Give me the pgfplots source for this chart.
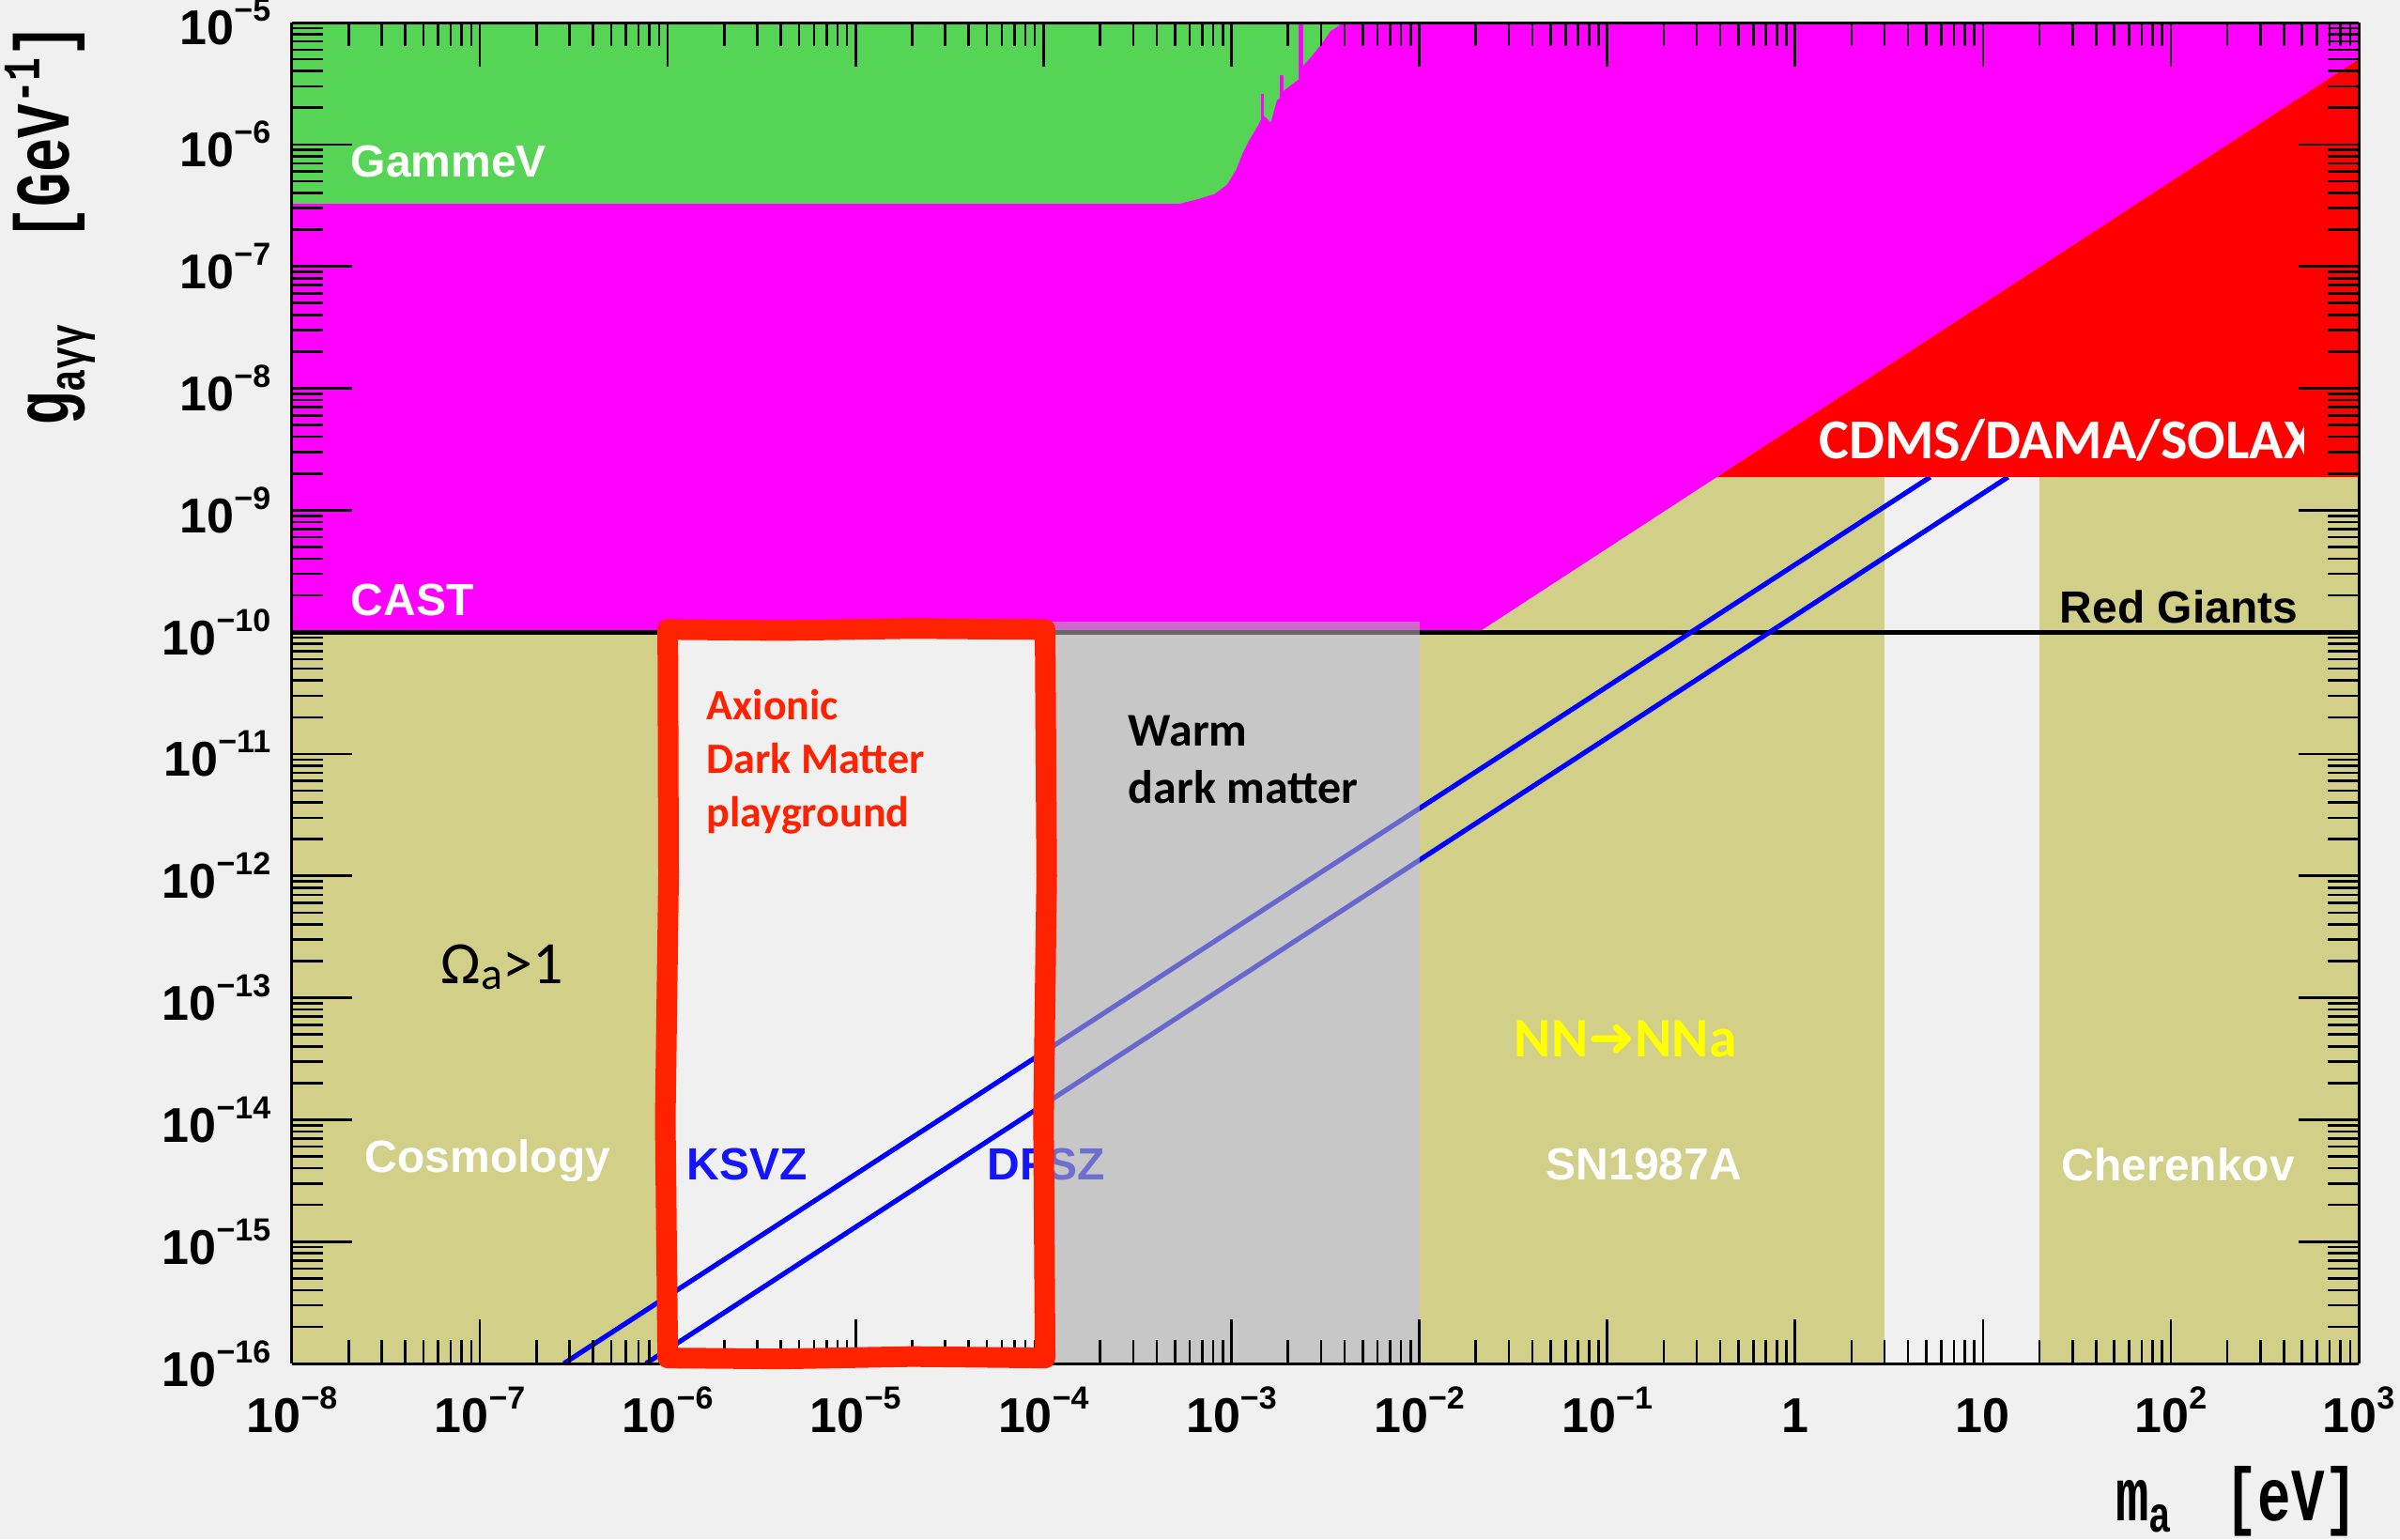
\documentclass[border=0pt]{standalone}
\usepackage{fontspec}
\setmainfont{Liberation Sans}
\newfontfamily\calfont{Carlito}
\newfontfamily\mfont{Liberation Mono}
\newfontfamily\dvfont{DejaVu Sans}
\usepackage{graphicx}
\usepackage{pgfplots}
\pgfplotsset{compat=1.18}

\definecolor{bgc}{HTML}{F0F0F0}
\definecolor{olivec}{HTML}{D2CF88}
\definecolor{greenc}{HTML}{55D455}
\definecolor{magc}{HTML}{FF00FF}
\definecolor{redc}{HTML}{FF0000}
\definecolor{boxc}{HTML}{FF2200}
\definecolor{greyc}{RGB}{173,173,173}
\definecolor{bluec}{HTML}{1414FF}
\definecolor{yelc}{HTML}{FFFF00}

\newcommand{\tf}{\fontsize{13}{13}\selectfont\bfseries}
\newcommand{\sx}[1]{\tf 10\raisebox{6.25pt}{\fontsize{8.5}{8.5}\selectfont\bfseries #1}}
\newcommand{\lab}{\fontsize{12}{12}\selectfont\bfseries}
\newcommand{\cfont}[1]{\calfont\bfseries\fontsize{#1}{#1}\selectfont}

\def\mxt{1e-8}
\foreach \e in {-8,...,2}{\foreach \m in {2,...,9}{\xdef\mxt{\mxt,\m e\e}}}
\def\myt{1e-16}
\foreach \e in {-16,...,-6}{\foreach \m in {2,...,9}{\xdef\myt{\myt,\m e\e}}}

\begin{document}
\begin{tikzpicture}
\fill[bgc] (-77.75pt,-46.75pt) rectangle (561.25pt,363pt);

\begin{axis}[at={(0pt,0pt)}, anchor=south west, scale only axis,
  width=550.25pt, height=357pt, xmode=log, ymode=log,
  xmin=1e-8, xmax=1e3, ymin=1e-16, ymax=1e-5,
  axis line style={line width=0.75pt, black},
  tick style={line width=0.65pt, black},
  hide y axis, axis on top,
  xtick={1e-8,1e-7,1e-6,1e-5,1e-4,1e-3,1e-2,1e-1,1,10,100,1000},
  xticklabels={\sx{−8},\sx{−7},\sx{−6},\sx{−5},\sx{−4},\sx{−3},\sx{−2},\sx{−1},{\tf 1},{\tf 10},\sx{2},\sx{3}},
  minor xtick/.expanded={\mxt},
  major tick length=11.75pt, minor tick length=6.25pt,
  xticklabel style={anchor=base, inner sep=0pt, yshift=-18.25pt},
]
% Cosmology
\addplot[fill=olivec, draw=none] coordinates {(1e-8,1e-16) (1e-6,1e-16) (1e-6,1e-10) (1e-8,1e-10)} -- cycle;
% SN1987A
\addplot[fill=olivec, draw=none] coordinates {(1e-2,1e-16) (3,1e-16) (3,1.87e-9) (1e-2,1.87e-9)} -- cycle;
% Cherenkov
\addplot[fill=olivec, draw=none] coordinates {(20,1e-16) (1e3,1e-16) (1e3,1.87e-9) (20,1.87e-9)} -- cycle;
% CAST
\addplot[fill=magc, draw=none] coordinates {(1e-8,1e-10) (0.0207,1e-10) (1e3,5.0e-6) (1e3,1e-5) (1e-8,1e-5)} -- cycle;
% GammeV
\addplot[fill=greenc, draw=none] coordinates {
 (1e-8,1e-5) (1e-8,3.27e-7) (5.32e-4,3.27e-7) (6.70e-4,3.58e-7) (8.11e-4,3.92e-7)
 (9.46e-4,4.68e-7) (1.062e-3,6.28e-7) (1.146e-3,8.45e-7) (1.236e-3,1.069e-6)
 (1.387e-3,1.439e-6) (1.435e-3,1.6e-6) (1.435e-3,2.6e-6) (1.486e-3,2.6e-6) (1.486e-3,1.73e-6)
 (1.62e-3,1.52e-6) (1.746e-3,2.31e-6) (1.807e-3,2.4e-6) (1.807e-3,3.7e-6) (1.892e-3,3.7e-6)
 (1.892e-3,2.75e-6) (2.198e-3,3.29e-6) (2.275e-3,3.4e-6) (2.275e-3,1e-5) (2.41e-3,1e-5)
 (2.41e-3,4.43e-6) (2.667e-3,5.28e-6) (3.105e-3,7.1e-6) (3.357e-3,8.47e-6)
 (3.767e-3,9.55e-6) (3.9e-3,1e-5)} -- cycle;
% Red Giants
\addplot[black, line width=1.25pt] coordinates {(1e-8,1e-10) (1e3,1e-10)};
% KSVZ, DFSZ
\addplot[blue, line width=1.3pt] coordinates {(2.8e-7,1e-16) (5.24,1.87e-9)};
\addplot[blue, line width=1.3pt] coordinates {(7.66e-7,1e-16) (13.6,1.87e-9)};
% CDMS/DAMA/SOLAX
\addplot[fill=redc, draw=none] coordinates {(0.384,1.87e-9) (1e3,1.87e-9) (1e3,5.0e-6)} -- cycle;
\node[anchor=base west, inner sep=0pt, text=bluec, font=\lab] at (rel axis cs:0.3362,0.1366) {DFSZ};
% Warm dark matter
\addplot[fill=greyc, fill opacity=0.6, draw=none] coordinates {(1e-4,1e-16) (1e-2,1e-16) (1e-2,1.22e-10) (1e-4,1.22e-10)} -- cycle;
\end{axis}

\begin{axis}[at={(0pt,0pt)}, anchor=south west, scale only axis,
  width=550.25pt, height=357pt, xmode=log, ymode=log,
  xmin=1e-8, xmax=1e3, ymin=1e-16, ymax=1e-5,
  axis line style={line width=0.75pt, black},
  tick style={line width=0.65pt, black},
  hide x axis, clip=false,
  ytick={1e-16,1e-15,1e-14,1e-13,1e-12,1e-11,1e-10,1e-9,1e-8,1e-7,1e-6,1e-5},
  yticklabels={\sx{−16},\sx{−15},\sx{−14},\sx{−13},\sx{−12},\sx{−11},\sx{−10},\sx{−9},\sx{−8},\sx{−7},\sx{−6},\sx{−5}},
  minor ytick/.expanded={\myt},
  major tick length=16pt, minor tick length=8.25pt,
  yticklabel style={anchor=east, inner sep=0pt, xshift=-5.5pt},
]
% Axionic dark matter box
\addplot[draw=boxc, line width=5.5pt, line join=round, line cap=round] coordinates {
 (1e-6,1.05e-10) (4e-6,1.03e-10) (2e-5,1.07e-10) (1.02e-4,1.05e-10)
 (1.04e-4,1e-12) (1.0e-4,1e-14) (1.02e-4,1.11e-16)
 (2e-5,1.14e-16) (4e-6,1.09e-16) (1e-6,1.11e-16)
 (9.7e-7,1e-14) (1.01e-6,1e-12) (1e-6,1.05e-10)};

\node[anchor=base west, inner sep=0pt, text=white, font=\lab] at (rel axis cs:0.0282,0.8845) {GammeV};
\node[anchor=base west, inner sep=0pt, text=white, font=\lab] at (rel axis cs:0.0282,0.5581) {CAST};
\begin{scope}
\clip (rel axis cs:0,0) rectangle (rel axis cs:0.9732,1);
\node[anchor=base west, inner sep=0pt, text=white, font=\cfont{15}] at (rel axis cs:0.7388,0.675) {CDMS/DAMA/SOLAX};
\end{scope}
\node[anchor=base west, inner sep=0pt, text=black, font=\lab] at (rel axis cs:0.8551,0.5525) {Red Giants};
\node[anchor=base west, inner sep=0pt, text=boxc, font=\cfont{11.5}] at (rel axis cs:0.2004,0.480) {Axionic};
\node[anchor=base west, inner sep=0pt, text=boxc, font=\cfont{11.5}] at (rel axis cs:0.2004,0.4398) {Dark Matter};
\node[anchor=base west, inner sep=0pt, text=boxc, font=\cfont{11.5}] at (rel axis cs:0.2004,0.3999) {playground};
\node[anchor=base west, inner sep=0pt, text=black, font=\cfont{12.5}] at (rel axis cs:0.4044,0.4608) {Warm};
\node[anchor=base west, inner sep=0pt, text=black, font=\cfont{12.5}] at (rel axis cs:0.4044,0.418) {dark matter};
\node[anchor=base west, inner sep=0pt, text=black, font={\calfont\fontsize{16}{16}\selectfont}] at (rel axis cs:0.0718,0.2836) {Ω\raisebox{-1.5pt}{\fontsize{12}{12}\selectfont a}>1};
\node[anchor=base west, inner sep=0pt, text=white, font=\lab] at (rel axis cs:0.035,0.1422) {Cosmology};
\node[anchor=base west, inner sep=0pt, text=bluec, font=\lab] at (rel axis cs:0.1908,0.1366) {KSVZ};
\node[anchor=base west, inner sep=0pt, text=yelc, font=\cfont{14.9}] at (rel axis cs:0.5911,0.229) {NN{\dvfont\bfseries\fontsize{15}{15}\selectfont ➜}NNa};
\node[anchor=base west, inner sep=0pt, text=white, font=\lab] at (rel axis cs:0.6065,0.1366) {SN1987A};
\node[anchor=base west, inner sep=0pt, text=white, font=\lab] at (rel axis cs:0.856,0.1359) {Cherenkov};
\end{axis}

\node[rotate=90, anchor=base east, inner sep=0pt] at (-59.25pt,357pt)
 {\scalebox{0.74}[1]{\mfont\bfseries\fontsize{20.5}{20.5}\selectfont g\raisebox{-4pt}{\fontsize{13.5}{13.5}\selectfont aγγ}\hspace{30pt}[GeV\raisebox{8pt}{\fontsize{14}{14}\selectfont -1}]}};
\node[anchor=base east, inner sep=0pt] at (550.25pt,-41.75pt)
 {\scalebox{0.74}[1]{\mfont\bfseries\fontsize{20}{20}\selectfont m\raisebox{-3pt}{\fontsize{13.5}{13.5}\selectfont a}\hspace{19pt}[eV]}};

\pgfresetboundingbox
\useasboundingbox (-77.75pt,-46.75pt) rectangle (561.25pt,363pt);
\end{tikzpicture}
\end{document}
